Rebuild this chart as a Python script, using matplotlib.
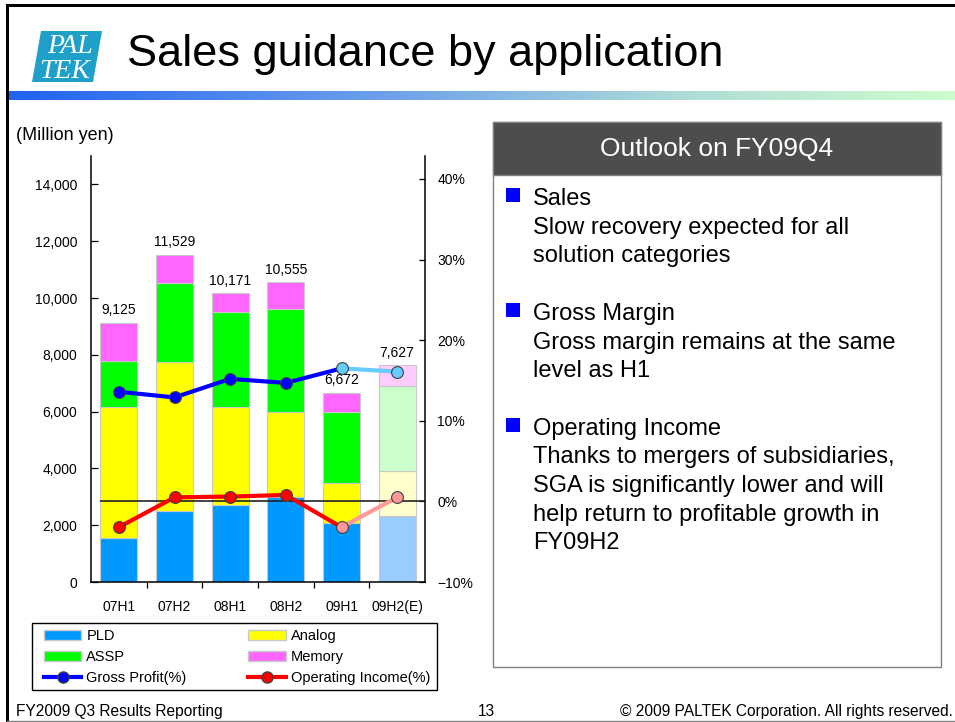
import matplotlib

matplotlib.use("Agg")

import matplotlib.pyplot as plt
import numpy as np
from matplotlib.lines import Line2D
from matplotlib.patches import Patch, Polygon, Rectangle
from matplotlib.ticker import FuncFormatter

plt.rcParams["font.family"] = ["Liberation Sans", "DejaVu Sans"]

# data (million yen / %)
periods = ["07H1", "07H2", "08H1", "08H2", "09H1", "09H2(E)"]
pld = [1560, 2500, 2700, 2990, 2090, 2330]
analog = [4585, 5245, 3450, 2980, 1410, 1595]
assp = [1650, 2785, 3350, 3660, 2500, 2960]
memory = [1330, 999, 671, 925, 672, 742]
totals = [9125, 11529, 10171, 10555, 6672, 7627]
gross_pct = [13.6, 12.9, 15.2, 14.7, 16.5, 16.1]
op_pct = [-3.2, 0.5, 0.6, 0.8, -3.2, 0.5]

left_ticks = [0, 2000, 4000, 6000, 8000, 10000, 12000, 14000]
right_ticks = [-10, 0, 10, 20, 30, 40]

bullets = [
    ("Sales", ["Slow recovery expected for all", "solution categories"]),
    ("Gross Margin", ["Gross margin remains at the same", "level as H1"]),
    ("Operating Income", ["Thanks to mergers of subsidiaries,",
                          "SGA is significantly lower and will",
                          "help return to profitable growth in",
                          "FY09H2"]),
]

W, H = 955, 722


def fx(x):
    return x / W


def fy(y):
    return 1 - y / H


def box(x0, y0, x1, y1, **kw):
    # rectangle given in slide pixels (y downwards)
    return Rectangle((fx(x0), fy(y1)), fx(x1) - fx(x0), fy(y0) - fy(y1),
                     transform=fig.transFigure, **kw)


fig = plt.figure(figsize=(W / 100, H / 100), dpi=100)
fig.patch.set_facecolor("white")

# slide frame
fig.add_artist(box(6, 4, 9, 722, facecolor="black", edgecolor="none"))
fig.add_artist(box(6, 4, 955, 7, facecolor="black", edgecolor="none"))
fig.add_artist(Line2D([fx(7), 1], [fy(720.5), fy(720.5)], transform=fig.transFigure,
                      color="#808080", lw=1))

# gradient bar under the title
gax = fig.add_axes([fx(9), fy(100), 1 - fx(9), fy(91) - fy(100)])
stops = np.array([[31, 99, 240], [110, 160, 235], [175, 222, 215], [205, 252, 205]]) / 255
pos = np.array([0.0, 0.4, 0.72, 1.0])
t = np.linspace(0, 1, 400)
grad = np.stack([np.interp(t, pos, stops[:, k]) for k in range(3)], axis=1)
gax.imshow(grad[np.newaxis, :, :], aspect="auto")
gax.axis("off")

# logo
fig.add_artist(Polygon([(fx(41), fy(31)), (fx(102), fy(31)), (fx(93), fy(82)), (fx(32), fy(82))],
                       closed=True, transform=fig.transFigure, facecolor="#1ea0c8", edgecolor="none"))
fig.text(fx(70), fy(53), "PAL", color="white", fontsize=20, family="Liberation Serif",
         style="italic", ha="center", va="baseline")
fig.text(fx(65), fy(78), "TEK", color="white", fontsize=20, family="Liberation Serif",
         style="italic", ha="center", va="baseline")

fig.text(fx(127), fy(66), "Sales guidance by application", fontsize=32.5, va="baseline")
fig.text(fx(16), fy(140), "(Million yen)", fontsize=13, va="baseline")

# chart
ax = fig.add_axes([fx(91), fy(582), fx(425) - fx(91), fy(156) - fy(582)])
x = np.arange(len(periods))
bw = 0.67


def shade(base, light):
    return [base] * (len(periods) - 1) + [light]


bottom = np.zeros(len(periods))
series = [
    (pld, "PLD", "#0099ff", "#99ccff"),
    (analog, "Analog", "#ffff00", "#ffffcc"),
    (assp, "ASSP", "#00ff00", "#ccffcc"),
    (memory, "Memory", "#ff66ff", "#ffccff"),
]
for vals, name, c, lc in series:
    ax.bar(x, vals, bw, bottom=bottom, color=shade(c, lc), edgecolor="#c8c8c8", lw=0.8, zorder=2)
    bottom += np.array(vals)

for xi, tot in zip(x, totals):
    ax.annotate(f"{tot:,}", (xi, tot), xytext=(0, 4), textcoords="offset points",
                ha="center", va="bottom", fontsize=10)

ax.set_xlim(-0.5, 5.5)
ax.set_ylim(0, 15000)
ax.set_yticks(left_ticks)
ax.yaxis.set_major_formatter(FuncFormatter(lambda v, p: f"{int(v):,}"))
ax.set_xticks(x)
ax.set_xticklabels(periods)
ax.set_xticks(x[:-1] + 0.5, minor=True)
ax.tick_params(axis="x", which="major", length=0, pad=13, labelsize=10)
ax.tick_params(axis="x", which="minor", length=4, direction="out", width=0.9)
ax.tick_params(axis="y", direction="in", length=5, width=0.9, pad=10, labelsize=10)
for s in ["top", "right"]:
    ax.spines[s].set_visible(False)
for s in ["left", "bottom"]:
    ax.spines[s].set_linewidth(1.1)

ax2 = ax.twinx()
ax2.set_ylim(-10, 42.85)
ax2.set_yticks(right_ticks)
ax2.yaxis.set_major_formatter(FuncFormatter(lambda v, p: f"{int(v)}%".replace("-", "\u2212")))
ax2.tick_params(axis="y", direction="in", length=4, width=0.9, pad=9, labelsize=10)
for s in ["top", "left", "bottom"]:
    ax2.spines[s].set_visible(False)
ax2.spines["right"].set_linewidth(1.1)

ax2.hlines(0, -0.33, 5.5, color="#222222", lw=1.2, zorder=3)

lines = [
    (gross_pct, "Gross Profit(%)", "#0000ff", "#66ccff"),
    (op_pct, "Operating Income(%)", "#ff0000", "#ff9999"),
]
for vals, name, c, lc in lines:
    ax2.plot(x[:5], vals[:5], color=c, lw=3, zorder=4)
    ax2.plot(x[4:], vals[4:], color=lc, lw=3, zorder=4)
    ax2.plot(x[:4], vals[:4], ls="none", marker="o", ms=8.5, mfc=c, mec="#404040", mew=0.8, zorder=5)
    ax2.plot(x[4:], vals[4:], ls="none", marker="o", ms=8.5, mfc=lc, mec="#404040", mew=0.8, zorder=5)

# legend: frame drawn separately so the entries can sit inside it freely
fig.add_artist(box(32, 623, 437, 690, facecolor="white", edgecolor="black", lw=1))
handles = [
    Patch(facecolor="#0099ff", edgecolor="#c8c8c8", label="PLD"),
    Patch(facecolor="#00ff00", edgecolor="#c8c8c8", label="ASSP"),
    Line2D([], [], color="#0000ff", lw=3, marker="o", ms=8, mfc="#0000ff", mec="#404040",
           label="Gross Profit(%)"),
    Patch(facecolor="#ffff00", edgecolor="#c8c8c8", label="Analog"),
    Patch(facecolor="#ff66ff", edgecolor="#c8c8c8", label="Memory"),
    Line2D([], [], color="#ff0000", lw=3, marker="o", ms=8, mfc="#ff0000", mec="#404040",
           label="Operating Income(%)"),
]
fig.legend(handles=handles, ncol=2, loc="upper left", mode="expand",
           bbox_to_anchor=(fx(44), fy(629), fx(430) - fx(44), 0),
           bbox_transform=fig.transFigure, fontsize=10.5, frameon=False,
           handlelength=2.55, handletextpad=0.35, borderpad=0, labelspacing=0.48,
           borderaxespad=0)

# outlook panel
fig.add_artist(box(493, 122, 941, 667, facecolor="white", edgecolor="#808080", lw=1))
fig.add_artist(box(493, 122, 941, 175, facecolor="#4d4d4d", edgecolor="#808080", lw=1))
fig.text(fx(717), fy(149), "Outlook on FY09Q4", color="white", fontsize=19, ha="center", va="center")

row = 0
step = 28.7
for head, body in bullets:
    base = 205 + row * step
    fig.add_artist(box(506, base - 17, 520, base - 3, facecolor="#0000ff", edgecolor="none"))
    fig.text(fx(533), fy(base), head, fontsize=17, va="baseline")
    for k, line in enumerate(body, start=1):
        fig.text(fx(533), fy(base + k * step), line, fontsize=17, va="baseline")
    row += len(body) + 2

# footer
fig.text(fx(16), fy(716), "FY2009 Q3 Results Reporting", fontsize=11.2, va="baseline")
fig.text(fx(486), fy(716), "13", fontsize=11.2, ha="center", va="baseline")
fig.text(fx(953), fy(716), "\u00a9 2009 PALTEK Corporation. All rights reserved.", fontsize=11.2,
         ha="right", va="baseline")

fig.savefig("out.png", dpi=100)
